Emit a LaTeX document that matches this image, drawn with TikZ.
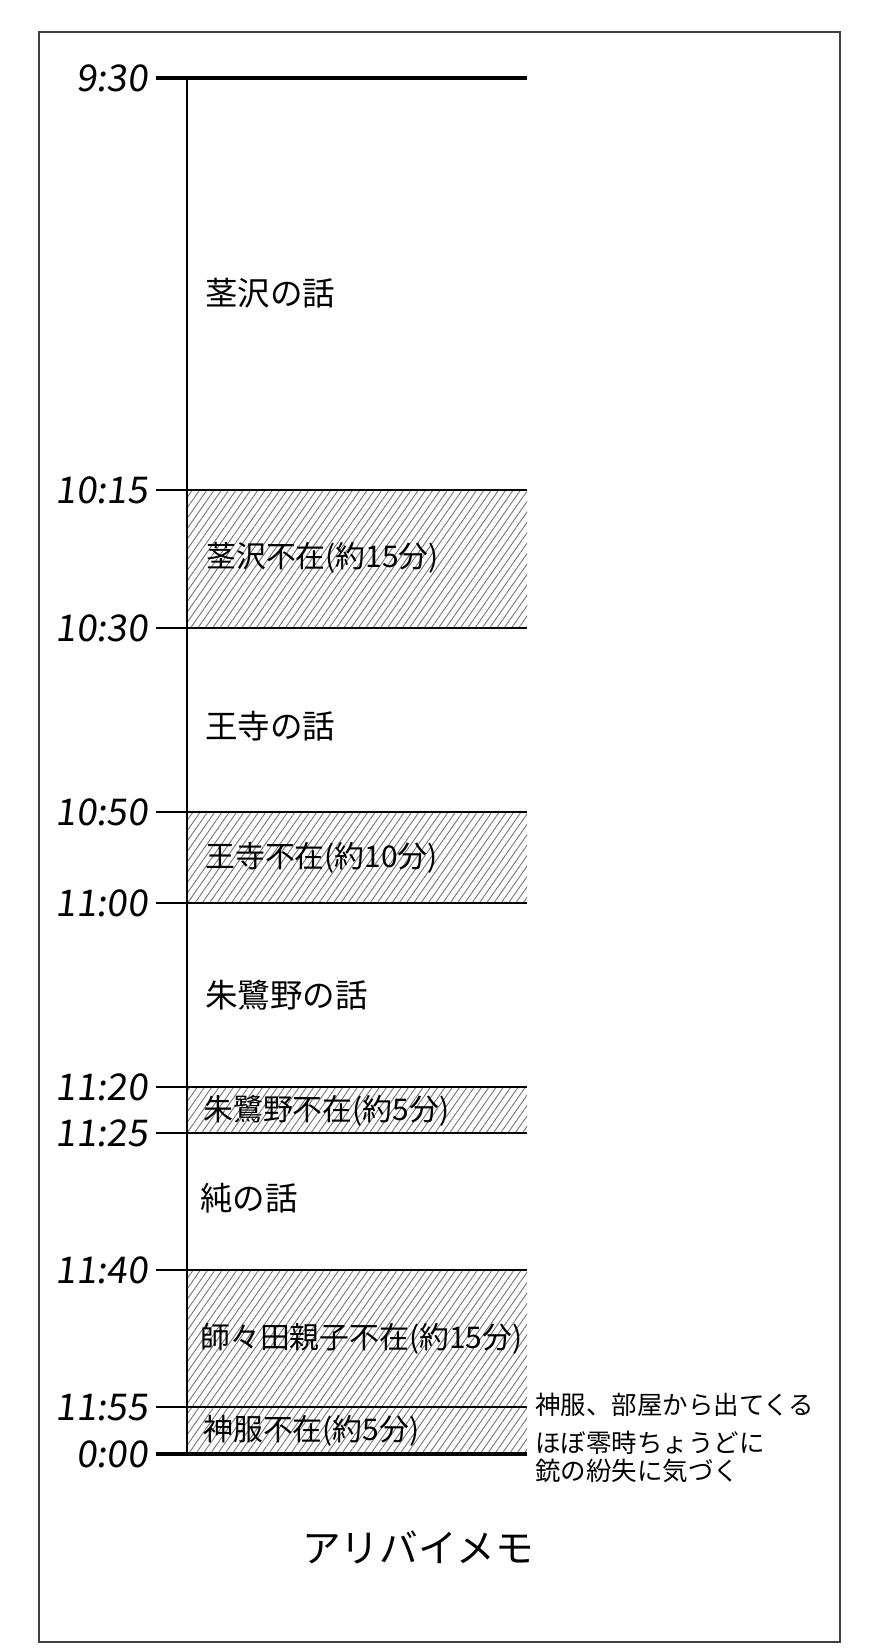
\documentclass[tikz,border=0pt]{standalone}
\usepackage{fontspec}
\setmainfont{Noto Sans CJK JP}
\newfontfamily\handfont[FakeSlant=0.12]{Noto Sans CJK JP}
\usepackage{tikz}
\usetikzlibrary{patterns.meta, positioning}

\begin{document}
\begin{tikzpicture}[x=0.02cm, y=-0.02cm,
  clock/.style={anchor=east, font=\handfont\fontsize{21}{21}\selectfont,
    inner xsep=4.5pt, inner ysep=0pt, text height=15pt, text depth=0pt},
  talk/.style={anchor=west, font=\fontsize{18.5}{18.5}\selectfont, inner sep=0pt},
  away/.style={anchor=west, font=\fontsize{17}{17}\selectfont, inner sep=0pt},
  note/.style={anchor=west, font=\fontsize{14.5}{15.5}\selectfont, inner sep=0pt, align=left},
  absent/.style={pattern={Lines[angle=55, distance=3.4pt, line width=0.5pt]}, pattern color=black!55},
  rule/.style={line width=0.6pt},
  boldrule/.style={line width=2.2pt},
]
  \useasboundingbox (0,0) rectangle (880,1650);
  \draw[black!75, line width=0.9pt] (39,32) rectangle (840,1642);

  % time marks
  \node[clock] (t0930) at (156,78) {9:30};
  \node[clock] (t1015) at (156,490) {10:15};
  \node[clock] (t1030) at (156,628) {10:30};
  \node[clock] (t1050) at (156,812) {10:50};
  \node[clock] (t1100) at (156,903) {11:00};
  \node[clock] (t1120) at (156,1087) {11:20};
  \node[clock] (t1125) at (156,1133) {11:25};
  \node[clock] (t1140) at (156,1270) {11:40};
  \node[clock] (t1155) at (156,1407) {11:55};
  \node[clock] (t0000) at (156,1454) {0:00};
  \coordinate (axis) at (187,78);
  \coordinate (rend) at (527,78);

  % absences
  \fill[absent] (t1015.east -| axis) rectangle (t1030.east -| rend);
  \fill[absent] (t1050.east -| axis) rectangle (t1100.east -| rend);
  \fill[absent] (t1120.east -| axis) rectangle (t1125.east -| rend);
  \fill[absent] (t1140.east -| axis) rectangle (t0000.east -| rend);

  \draw[boldrule] (t0930.east) -- (t0930.east -| rend);
  \draw[rule] (t1015.east) -- (t1015.east -| rend);
  \draw[rule] (t1030.east) -- (t1030.east -| rend);
  \draw[rule] (t1050.east) -- (t1050.east -| rend);
  \draw[rule] (t1100.east) -- (t1100.east -| rend);
  \draw[rule] (t1120.east) -- (t1120.east -| rend);
  \draw[rule] (t1125.east) -- (t1125.east -| rend);
  \draw[rule] (t1140.east) -- (t1140.east -| rend);
  \draw[rule] (t1155.east) -- (t1155.east -| rend);
  \draw[boldrule] (t0000.east) -- (t0000.east -| rend);
  \draw[line width=1.1pt] (axis) -- (t0000.east -| axis);

  % stories
  \node[talk] (kukisawa) at (205,293) {茎沢の話};
  \node[away] (kukisawa-off) at (206,558) {茎沢不在(約15分)};
  \node[talk] (ouji) at (205,726) {王寺の話};
  \node[away] (ouji-off) at (205,858) {王寺不在(約10分)};
  \node[talk] (tokino) at (205,995) {朱鷺野の話};
  \node[away] (tokino-off) at (203,1111) {朱鷺野不在(約5分)};
  \node[talk] (jun) at (200,1198) {純の話};
  \node[away] (shishida-off) at (200,1339) {師々田親子不在(約15分)};
  \node[away] (kanhatori-off) at (203,1431) {神服不在(約5分)};

  \node[note] (kanhatori) at (535,1405) {神服、部屋から出てくる};
  \node[note] (gun) at (535,1457) {ほぼ零時ちょうどに\\銃の紛失に気づく};

  \node[font=\fontsize{22}{22}\selectfont, inner sep=0pt] (memo) at (418,1547) {アリバイメモ};
\end{tikzpicture}
\end{document}
